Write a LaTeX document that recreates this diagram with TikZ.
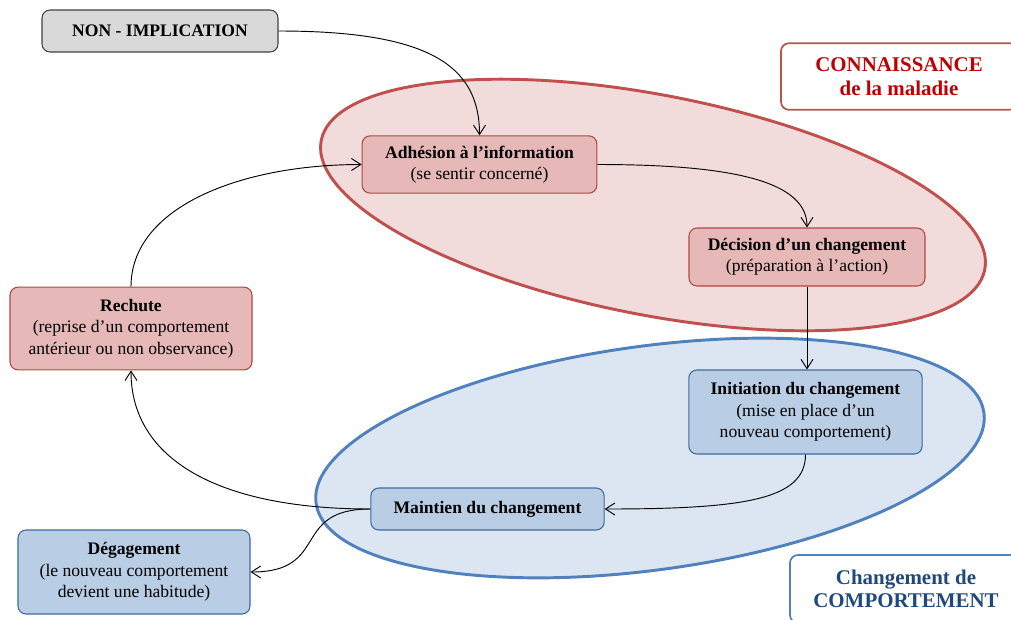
\documentclass[tikz,border=0pt]{standalone}
\usepackage{fontspec}
\setmainfont{Liberation Serif}
\usetikzlibrary{arrows.meta}

\tikzset{
  phase/.style={rounded corners=6pt, line width=0.8pt, align=center, inner sep=2pt,
    font=\fontsize{13.2}{16}\selectfont},
  greybox/.style={phase, fill=boxgrey, draw=linegrey},
  redbox/.style={phase, fill=boxred, draw=lineboxred},
  bluebox/.style={phase, fill=boxblue, draw=lineboxblue},
  zonelabel/.style={rounded corners=6pt, line width=1.3pt, fill=white, align=center,
    font=\fontsize{15.7}{17.5}\selectfont\bfseries},
  flow/.style={line width=0.7pt, -{Straight Barb[length=7pt,width=9pt]}}
}

\begin{document}
\begin{tikzpicture}[x=0.75pt,y=-0.75pt]
	\definecolor{redline}{HTML}{C0504D}
	\definecolor{redzone}{HTML}{F2DCDB}
	\definecolor{redtext}{HTML}{C00000}
	\definecolor{boxred}{HTML}{E6B9B8}
	\definecolor{lineboxred}{HTML}{B04744}
	\definecolor{blueline}{HTML}{4F81BD}
	\definecolor{bluezone}{HTML}{DCE6F2}
	\definecolor{bluetext}{HTML}{1F497D}
	\definecolor{boxblue}{HTML}{B9CDE5}
	\definecolor{lineboxblue}{HTML}{3E6A9E}
	\definecolor{boxgrey}{HTML}{D9D9D9}
	\definecolor{linegrey}{HTML}{404040}
	\useasboundingbox (0,0) rectangle (1011,619);
	\clip (0,0) rectangle (1011,619);
	% zones
	\draw[fill=redzone, draw=redline, line width=2.2pt, rotate around={-11:(653,205)}]
		(653,205) ellipse [x radius=253.5pt, y radius=82.5pt];
	\draw[fill=bluezone, draw=blueline, line width=2.2pt, rotate around={7.7:(650,458)}]
		(650,458) ellipse [x radius=252.75pt, y radius=84pt];
	% phases
	\node[greybox, minimum width=177pt, minimum height=31.5pt] (nonimpl) at (160,31) {\textbf{NON - IMPLICATION}};
	\node[redbox, minimum width=176pt, minimum height=43pt] (adhesion) at (479.5,164.5) {\textbf{Adhésion à l’information}\\(se sentir concerné)};
	\node[redbox, minimum width=177pt, minimum height=43.5pt] (decision) at (807,257) {\textbf{Décision d’un changement}\\(préparation à l’action)};
	\node[bluebox, minimum width=175pt, minimum height=63pt] (initiation) at (805.5,412) {\textbf{Initiation du changement}\\(mise en place d’un\\nouveau comportement)};
	\node[bluebox, minimum width=175pt, minimum height=31.5pt] (maintien) at (487.5,509) {\textbf{Maintien du changement}};
	\node[redbox, minimum width=181.5pt, minimum height=62pt] (rechute) at (131,328.5) {\textbf{Rechute}\\(reprise d’un comportement\\antérieur ou non observance)};
	\node[bluebox, minimum width=174pt, minimum height=63pt] (degagement) at (134,572) {\textbf{Dégagement}\\(le nouveau comportement\\devient une habitude)};
	% zone labels
	\node[zonelabel, draw=redline, text=redtext, minimum width=177pt, minimum height=50pt] (connaissance) at (899,76.5) {CONNAISSANCE\\de la maladie};
	\node[zonelabel, draw=blueline, text=bluetext, minimum width=174pt, minimum height=51pt] (comportement) at (906,589) {Changement de\\COMPORTEMENT};
	% cycle
	\draw[flow] (nonimpl.east) .. controls +(150,0) and +(0,-70) .. (adhesion.north);
	\draw[flow] (adhesion.east) .. controls +(140,0) and +(0,-45) .. (decision.north);
	\draw[flow] (decision.south) -- (decision.south |- initiation.north);
	\draw[flow] (initiation.south) .. controls +(0,45) and +(140,0) .. (maintien.east);
	\draw[flow] (maintien.west) .. controls +(-150,0) and +(0,90) .. (rechute.south);
	\draw[flow] (maintien.west) .. controls +(-80,0) and +(80,0) .. (degagement.east);
	\draw[flow] (rechute.north) .. controls +(0,-80) and +(-120,0) .. (adhesion.west);
\end{tikzpicture}
\end{document}
